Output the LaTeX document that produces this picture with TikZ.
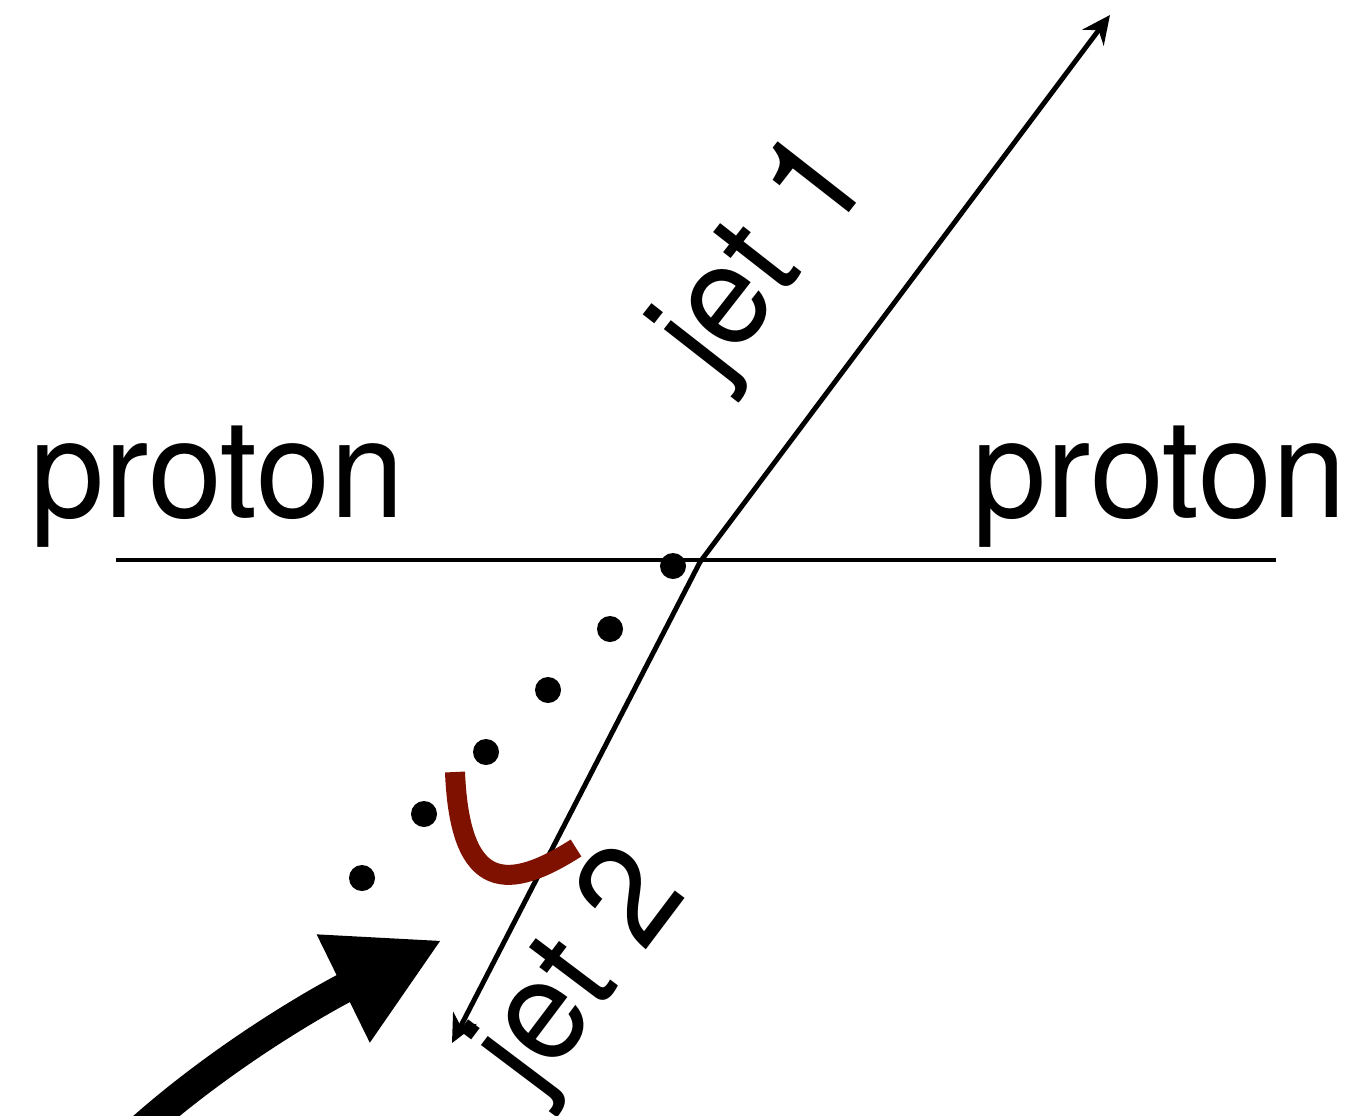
\documentclass[tikz,border=0pt]{standalone}
\usepackage{fontspec}
\setmainfont[FakeStretch=0.97]{TeX Gyre Heros}
\definecolor{pBlack}{HTML}{000000}
\definecolor{pDarkRed}{HTML}{7F1100}
\usepackage{tikz}
\usetikzlibrary{arrows.meta,calc}
\tikzset{
  beam/.style={draw=pBlack, line width=1.3pt},
  jetline/.style={draw=pBlack, line width=1.4pt, -{Stealth[length=8pt,width=7.5pt]}},
  vtx/.style={circle, fill=pBlack, inner sep=0pt, minimum size=0.26cm},
  lbl/.style={inner sep=0pt, font=\fontsize{39}{45}\selectfont, text=pBlack},
  jetlbl/.style={lbl, font=\fontsize{40}{46}\selectfont},
}
\begin{document}
\begin{tikzpicture}[x=0.01cm,y=-0.01cm]
\useasboundingbox (0,0) rectangle (1358,1115);
\coordinate (bl) at (116,560);
\coordinate (br) at (1276,560);
\coordinate (v) at (700,562);
\coordinate (j1) at (1110,15);
\coordinate (j2) at (452,1043);
\node[lbl, anchor=base west] (pl) at (30,517) {proton};
\node[lbl, anchor=base east] (pr) at (1347,517) {proton};
\draw[beam] (bl) -- (br);
\draw[jetline] (v) -- (j1);
\draw[jetline] (v) -- (j2);
\node[jetlbl, rotate=52] (l1) at (768,260) {jet 1};
\node[jetlbl, rotate=53] (l2) at (584,974) {jet 2};
% shower
\node[vtx] (d1) at (673,566) {};
\node[vtx] (d2) at (610,629) {};
\node[vtx] (d3) at (548,690) {};
\node[vtx] (d4) at (486,752) {};
\node[vtx] (d5) at (424,814) {};
\node[vtx] (d6) at (362,878) {};
\coordinate (ra) at (455,772);
\coordinate (rb) at (576,848);
\draw[pDarkRed, line width=0.2cm] (ra) .. controls (460,895) and (510,890) .. (rb);
\coordinate (a0) at (140,1130);
\coordinate (a1) at (442,940);
\draw[pBlack, line width=0.3cm, -{Triangle[length=1.1cm,width=1.12cm]}] (a0) .. controls (230,1050) and (330,995) .. (a1);
\end{tikzpicture}
\end{document}
